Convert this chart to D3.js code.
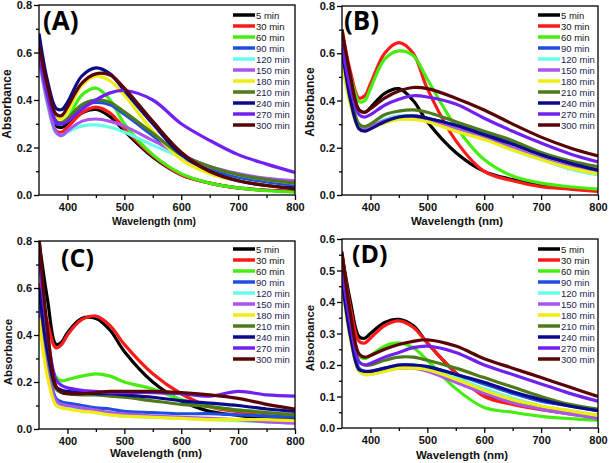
<!DOCTYPE html>
<html><head><meta charset="utf-8">
<script src="https://cdn.jsdelivr.net/npm/d3@7"></script>
<style>body{margin:0;background:#fff}</style>
</head><body>
<svg id="chart" width="609" height="463"></svg>
<script>
// ---------- data ----------
const wavelengths = [350, 365, 380, 390, 400, 425, 450, 475, 500, 550, 600, 650, 700, 750, 800];
const seriesNames = ["5 min","30 min","60 min","90 min","120 min","150 min","180 min","210 min","240 min","270 min","300 min"];
const seriesColors = ["#000000","#ff1a1a","#44ee11","#1f4fe0","#66ffe8","#aa55ee","#eeee11","#4f7a1a","#0a0a8a","#7020f0","#5a0505"];
const xTicks = [400, 500, 600, 700, 800];
const yTicks08 = [0.0, 0.2, 0.4, 0.6, 0.8];
const yTicks06 = [0.0, 0.1, 0.2, 0.3, 0.4, 0.5, 0.6];

const panelA = [
  [0.62,0.42,0.29,0.285,0.30,0.345,0.36,0.33,0.27,0.16,0.085,0.05,0.03,0.02,0.015],
  [0.62,0.40,0.27,0.265,0.285,0.345,0.37,0.345,0.28,0.165,0.085,0.05,0.03,0.02,0.015],
  [0.60,0.42,0.31,0.30,0.32,0.42,0.45,0.40,0.30,0.17,0.09,0.05,0.03,0.018,0.012],
  [0.60,0.42,0.30,0.30,0.32,0.375,0.39,0.38,0.34,0.25,0.16,0.11,0.075,0.055,0.04],
  [0.57,0.38,0.26,0.25,0.265,0.29,0.295,0.285,0.265,0.21,0.16,0.12,0.085,0.065,0.05],
  [0.58,0.39,0.265,0.25,0.27,0.31,0.32,0.31,0.29,0.23,0.17,0.12,0.09,0.07,0.06],
  [0.60,0.44,0.33,0.32,0.35,0.46,0.50,0.48,0.42,0.27,0.15,0.09,0.06,0.04,0.03],
  [0.60,0.42,0.31,0.305,0.32,0.38,0.40,0.39,0.35,0.26,0.17,0.12,0.085,0.065,0.05],
  [0.68,0.48,0.365,0.36,0.39,0.50,0.535,0.51,0.44,0.30,0.17,0.10,0.06,0.04,0.03],
  [0.60,0.42,0.31,0.30,0.31,0.36,0.40,0.43,0.44,0.40,0.30,0.23,0.17,0.13,0.095],
  [0.63,0.46,0.34,0.335,0.37,0.47,0.51,0.505,0.45,0.31,0.18,0.10,0.06,0.04,0.025]
];
const panelB = [
  [0.60,0.45,0.36,0.35,0.37,0.43,0.45,0.40,0.31,0.18,0.10,0.065,0.04,0.03,0.02],
  [0.70,0.52,0.41,0.42,0.47,0.60,0.645,0.60,0.45,0.23,0.10,0.06,0.035,0.025,0.015],
  [0.62,0.50,0.395,0.40,0.45,0.575,0.61,0.59,0.49,0.29,0.15,0.08,0.05,0.035,0.025],
  [0.60,0.40,0.285,0.275,0.285,0.315,0.33,0.335,0.325,0.295,0.26,0.22,0.17,0.135,0.105],
  [0.58,0.39,0.29,0.28,0.29,0.32,0.335,0.335,0.32,0.28,0.24,0.19,0.15,0.11,0.085],
  [0.58,0.39,0.29,0.28,0.29,0.315,0.33,0.33,0.32,0.285,0.245,0.20,0.155,0.12,0.095],
  [0.56,0.38,0.28,0.27,0.28,0.305,0.32,0.32,0.31,0.27,0.235,0.19,0.15,0.115,0.09],
  [0.62,0.42,0.30,0.29,0.30,0.34,0.355,0.36,0.35,0.31,0.27,0.23,0.18,0.145,0.12],
  [0.62,0.40,0.28,0.27,0.28,0.31,0.33,0.335,0.325,0.295,0.255,0.215,0.17,0.135,0.105],
  [0.64,0.45,0.34,0.33,0.34,0.38,0.405,0.42,0.415,0.385,0.325,0.27,0.22,0.175,0.14],
  [0.70,0.50,0.36,0.35,0.365,0.41,0.44,0.455,0.45,0.41,0.36,0.30,0.245,0.20,0.165]
];
const panelC = [
  [0.80,0.55,0.36,0.37,0.41,0.47,0.47,0.42,0.33,0.20,0.12,0.075,0.058,0.045,0.04],
  [0.62,0.45,0.345,0.36,0.40,0.465,0.48,0.44,0.36,0.235,0.15,0.095,0.074,0.065,0.06],
  [0.55,0.33,0.22,0.205,0.21,0.225,0.235,0.225,0.20,0.17,0.125,0.095,0.08,0.07,0.06],
  [0.55,0.27,0.13,0.115,0.11,0.10,0.09,0.085,0.075,0.07,0.065,0.065,0.06,0.055,0.05],
  [0.57,0.25,0.11,0.095,0.09,0.08,0.07,0.06,0.055,0.05,0.045,0.04,0.035,0.03,0.03],
  [0.52,0.25,0.12,0.105,0.10,0.09,0.08,0.07,0.065,0.055,0.05,0.045,0.04,0.03,0.025],
  [0.47,0.22,0.10,0.09,0.085,0.075,0.07,0.06,0.055,0.05,0.045,0.04,0.04,0.04,0.035],
  [0.60,0.32,0.17,0.155,0.15,0.145,0.145,0.14,0.135,0.12,0.105,0.095,0.08,0.07,0.06],
  [0.60,0.33,0.18,0.165,0.16,0.155,0.15,0.15,0.145,0.135,0.12,0.11,0.10,0.085,0.075],
  [0.75,0.40,0.21,0.185,0.175,0.165,0.16,0.155,0.155,0.155,0.15,0.14,0.16,0.145,0.14],
  [0.82,0.42,0.18,0.155,0.15,0.15,0.155,0.16,0.16,0.16,0.155,0.145,0.13,0.105,0.085]
];
const panelD = [
  [0.55,0.40,0.29,0.285,0.30,0.335,0.345,0.325,0.27,0.175,0.105,0.08,0.063,0.05,0.04],
  [0.55,0.38,0.275,0.27,0.285,0.325,0.34,0.32,0.27,0.175,0.10,0.075,0.058,0.045,0.035],
  [0.50,0.34,0.23,0.22,0.23,0.26,0.27,0.255,0.215,0.125,0.065,0.05,0.037,0.03,0.025],
  [0.48,0.30,0.19,0.18,0.18,0.19,0.20,0.20,0.195,0.17,0.14,0.11,0.085,0.07,0.055],
  [0.47,0.29,0.18,0.17,0.17,0.18,0.19,0.195,0.19,0.16,0.125,0.095,0.07,0.055,0.04],
  [0.47,0.29,0.185,0.175,0.175,0.185,0.19,0.19,0.18,0.145,0.11,0.08,0.06,0.045,0.03],
  [0.46,0.28,0.18,0.17,0.17,0.18,0.19,0.19,0.185,0.155,0.12,0.09,0.07,0.055,0.04],
  [0.50,0.32,0.21,0.20,0.20,0.215,0.225,0.225,0.215,0.19,0.16,0.13,0.10,0.075,0.06],
  [0.47,0.29,0.185,0.18,0.18,0.19,0.20,0.20,0.195,0.17,0.145,0.115,0.09,0.07,0.055],
  [0.50,0.33,0.21,0.20,0.205,0.225,0.24,0.255,0.26,0.24,0.20,0.17,0.14,0.11,0.085],
  [0.56,0.36,0.235,0.225,0.23,0.25,0.265,0.275,0.28,0.26,0.22,0.19,0.16,0.13,0.10]
];

// ---------- layout ----------
const panels = [
  {id:"a", label:"(A)", data:panelA, left:39, right:295, top:5, bottom:195, ymax:0.8, yTicks:yTicks08, yMinorStep:0.1, fmt:".1f",
   labelX:43, labelY:30, labelSize:26, legX:233, legY:15, xTitleX:154, xTitleY:225, xTitleSize:10.5, yTitleX:11, yTitleY:104, yTitleSize:12},
  {id:"b", label:"(B)", data:panelB, left:342, right:598, top:6, bottom:195, ymax:0.8, yTicks:yTicks08, yMinorStep:0.1, fmt:".1f",
   labelX:344, labelY:30, labelSize:26, legX:538, legY:15, xTitleX:457, xTitleY:225, xTitleSize:11.5, yTitleX:314, yTitleY:102, yTitleSize:12},
  {id:"c", label:"(C)", data:panelC, left:39, right:295, top:241, bottom:429, ymax:0.8, yTicks:yTicks08, yMinorStep:0.1, fmt:".1f",
   labelX:61, labelY:267, labelSize:25, legX:233, legY:249, xTitleX:156, xTitleY:457, xTitleSize:11.5, yTitleX:12, yTitleY:352, yTitleSize:11.5},
  {id:"d", label:"(D)", data:panelD, left:342, right:598, top:239, bottom:428, ymax:0.6, yTicks:yTicks06, yMinorStep:0.05, fmt:".1f",
   labelX:352, labelY:263, labelSize:25, legX:538, legY:249, xTitleX:462, xTitleY:459, xTitleSize:11.5, yTitleX:314, yTitleY:338, yTitleSize:11.5}
];

const svg = d3.select("#chart");
const font = "'Liberation Sans', Arial, sans-serif";

panels.forEach(p => {
  const g = svg.append("g");
  const x = d3.scaleLinear().domain([350, 800]).range([p.left, p.right]);
  const y = d3.scaleLinear().domain([0, p.ymax]).range([p.bottom, p.top]);

  g.append("clipPath").attr("id", "clip-" + p.id)
    .append("rect").attr("x", p.left).attr("y", p.top)
    .attr("width", p.right - p.left).attr("height", p.bottom - p.top);

  const line = d3.line()
    .x((d, i) => x(wavelengths[i]))
    .y(d => y(d))
    .curve(d3.curveCatmullRom.alpha(0.5));

  const lg = g.append("g").attr("clip-path", `url(#clip-${p.id})`);
  p.data.forEach((s, k) => {
    lg.append("path").attr("d", line(s))
      .attr("fill", "none").attr("stroke", seriesColors[k])
      .attr("stroke-width", 3.2).attr("stroke-linejoin", "round");
  });

  // frame
  g.append("rect").attr("x", p.left).attr("y", p.top)
    .attr("width", p.right - p.left).attr("height", p.bottom - p.top)
    .attr("fill", "none").attr("stroke", "#000").attr("stroke-width", 1.3);

  // x axis
  const xAxis = d3.axisBottom(x).tickValues(xTicks).tickSize(5).tickPadding(3)
    .tickFormat(d3.format("d"));
  const xa = g.append("g").attr("transform", `translate(0,${p.bottom})`).call(xAxis);
  const xMinor = d3.axisBottom(x).tickValues([450, 550, 650, 750]).tickSize(3).tickFormat("");
  const xm = g.append("g").attr("transform", `translate(0,${p.bottom})`).call(xMinor);

  // y axis
  const yAxis = d3.axisLeft(y).tickValues(p.yTicks).tickSize(5).tickPadding(2)
    .tickFormat(d3.format(p.fmt));
  const ya = g.append("g").attr("transform", `translate(${p.left},0)`).call(yAxis);
  const minorVals = d3.range(0, p.ymax + 1e-9, p.yMinorStep).filter(v => !p.yTicks.some(t => Math.abs(t - v) < 1e-6));
  const ym = g.append("g").attr("transform", `translate(${p.left},0)`)
    .call(d3.axisLeft(y).tickValues(minorVals).tickSize(3).tickFormat(""));

  [xa, xm, ya, ym].forEach(a => {
    a.select(".domain").remove();
    a.selectAll("line").attr("stroke", "#000").attr("stroke-width", 1.3);
    a.selectAll("text").attr("font-family", font).attr("font-weight", "bold")
      .attr("font-size", 11).attr("fill", "#111");
  });

  // axis titles
  g.append("text").attr("x", p.xTitleX).attr("y", p.xTitleY)
    .attr("text-anchor", "middle").attr("font-family", font).attr("font-weight", "bold")
    .attr("font-size", p.xTitleSize).attr("fill", "#111").text("Wavelength (nm)");
  g.append("text").attr("transform", `translate(${p.yTitleX},${p.yTitleY}) rotate(-90)`)
    .attr("text-anchor", "middle").attr("font-family", font).attr("font-weight", "bold")
    .attr("font-size", p.yTitleSize).attr("fill", "#111").text("Absorbance");

  // panel label
  g.append("text").attr("x", p.labelX).attr("y", p.labelY)
    .attr("font-family", "'Open Sans', 'DejaVu Sans', sans-serif").attr("font-weight", "bold")
    .attr("font-size", p.labelSize).attr("fill", "#000").text(p.label);

  // legend
  seriesNames.forEach((nm, k) => {
    const yy = p.legY + k * 11;
    g.append("line").attr("x1", p.legX).attr("x2", p.legX + 22)
      .attr("y1", yy).attr("y2", yy)
      .attr("stroke", seriesColors[k]).attr("stroke-width", 3.5);
    g.append("text").attr("x", p.legX + 23).attr("y", yy + 3.5)
      .attr("font-family", font).attr("font-size", 9.5)
      .attr("fill", k < 3 ? "#111" : "#1e2450").text(nm);
  });
});
</script>
</body></html>
